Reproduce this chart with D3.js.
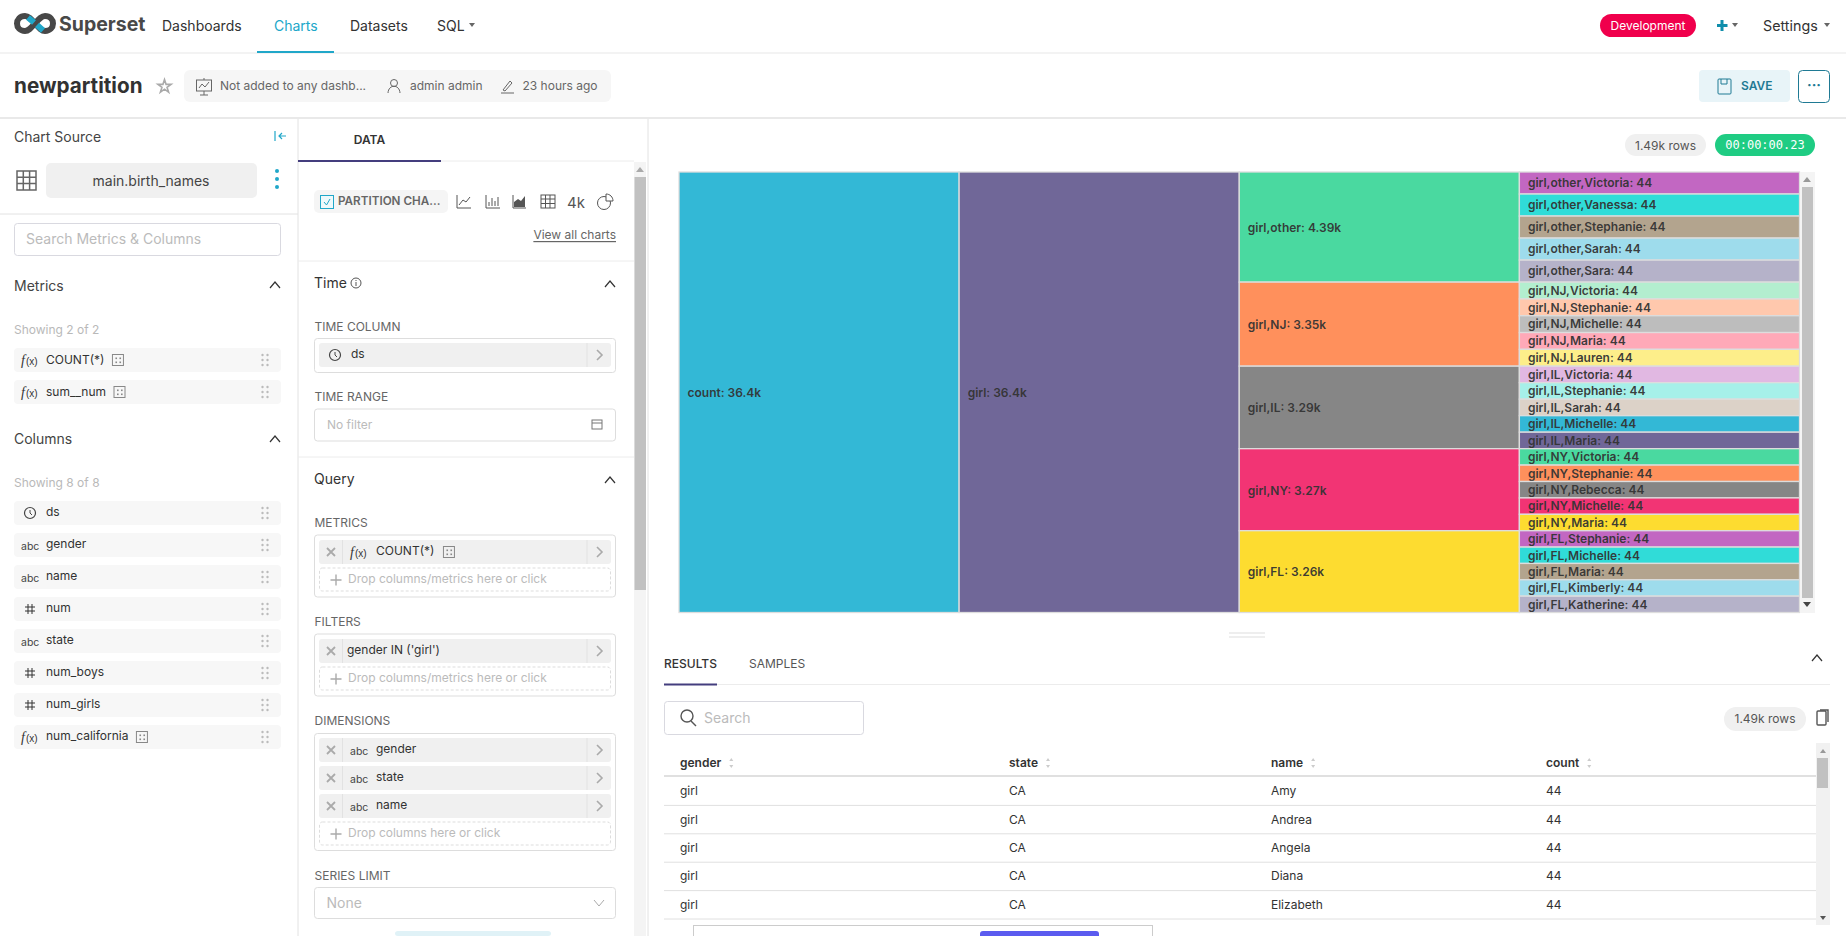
<![CDATA[<!DOCTYPE html>
<html><head><meta charset="utf-8">
<script src="https://cdnjs.cloudflare.com/ajax/libs/d3/7.8.5/d3.min.js"></script>
<style>
html,body{margin:0;padding:0;background:#fff;overflow:hidden}
svg{display:block}
text{font-family:Inter,"Noto Sans",sans-serif;dominant-baseline:central}
</style></head><body><svg id="c" width="1846" height="936"></svg>
<script>
// ---- chart data ----
const rootLabel = "count";
const genderLabel = "girl";
const totalValue = 36400;
const states = ["other","NJ","IL","NY","FL"];
const stateValues = [4390,3350,3290,3270,3260];
const namesOther = ["Victoria","Vanessa","Stephanie","Sarah","Sara"];
const namesNJ = ["Victoria","Stephanie","Michelle","Maria","Lauren"];
const namesIL = ["Victoria","Stephanie","Sarah","Michelle","Maria"];
const namesNY = ["Victoria","Stephanie","Rebecca","Michelle","Maria"];
const namesFL = ["Stephanie","Michelle","Maria","Kimberly","Katherine"];
const leafValue = 44;
const palette = ["#33b8d6","#706798","#4ad9a0","#ff905c","#868686","#f23474","#fddc30","#c267c2","#30dcd8","#b3a48e",
                 "#9edcec","#b5b2c9","#b3eecf","#ffc8ad","#bdbdbd","#ffa9b8","#fdee8a","#e1b8e2","#a6f0e9","#dcd2c8"];
// ---- results table ----
const tableCols = ["gender","state","name","count"];
const tableGender = ["girl","girl","girl","girl","girl"];
const tableState = ["CA","CA","CA","CA","CA"];
const tableName = ["Amy","Andrea","Angela","Diana","Elizabeth"];
const tableCount = [44,44,44,44,44];
// ---- interface labels ----
const navItems = ["Dashboards","Charts","Datasets","SQL"];
const metricItems = ["COUNT(*)","sum__num"];
const columnItems = ["ds","gender","name","num","state","num_boys","num_girls","num_california"];
const columnKinds = ["time","abc","abc","num","abc","num","num","fx"];
const dimensionItems = ["gender","state","name"];

const svg = d3.select("#c");
function R(x,y,w,h,fill,o={}){return svg.append("rect").attr("x",x).attr("y",y).attr("width",w).attr("height",h)
  .attr("fill",fill).attr("rx",o.rx||0).attr("stroke",o.stroke||"none").attr("stroke-width",o.sw||1).attr("stroke-dasharray",o.dash||null);}
function T(x,y,s,o={}){const t=svg.append("text").attr("x",x).attr("y",y).text(s).attr("font-size",o.size||12)
  .attr("font-weight",o.weight||400).attr("fill",o.fill||"#323232").attr("text-anchor",o.anchor||"start")
  .attr("font-style",o.italic?"italic":null).attr("text-decoration",o.deco||null);
  if(o.family)t.style("font-family",o.family);return t;}
function P(d,o={}){return svg.append("path").attr("d",d).attr("fill",o.fill||"none").attr("stroke",o.stroke||"#666")
  .attr("stroke-width",o.sw||1).attr("stroke-linecap",o.cap||null);}
function L(x1,y1,x2,y2,c,w=1){return svg.append("line").attr("x1",x1).attr("y1",y1).attr("x2",x2).attr("y2",y2).attr("stroke",c).attr("stroke-width",w);}
function caret(x,y,c="#666"){P(`M${x-3},${y-2}L${x+3},${y-2}L${x},${y+2}Z`,{fill:c,stroke:"none"});}
function chevUp(x,y){P(`M${x-5},${y+3}L${x},${y-3}L${x+5},${y+3}`,{stroke:"#333",sw:1.2});}
function chevRight(x,y){P(`M${x-2},${y-5}L${x+3},${y}L${x-2},${y+5}`,{stroke:"#aaa",sw:1.6});}
function clock(x,y){svg.append("circle").attr("cx",x).attr("cy",y).attr("r",5.5).attr("fill","none").attr("stroke","#444").attr("stroke-width",1.2);
  P(`M${x},${y-3}V${y}L${x+2},${y+2}`,{stroke:"#444"});}
function grip(x,y){[-5,0,5].forEach(dy=>[-2.5,2.5].forEach(dx=>svg.append("circle").attr("cx",x+dx).attr("cy",y+dy).attr("r",1.2).attr("fill","#bbb")));}
function sq(x,y){R(x,y-5.5,11,11,"none",{stroke:"#888"});[[3,3],[7,3],[3,7],[7,7]].forEach(p=>R(x+p[0],y-5.5+p[1],1.6,1.6,"#888"));}
function fx(x,y){T(x,y,"f",{family:"'Liberation Serif',serif",italic:1,size:14,fill:"#333"});T(x+5,y+1,"(x)",{size:10,family:"'Liberation Sans',sans-serif",fill:"#333"});}
function xmark(x,y){P(`M${x-4},${y-4}L${x+4},${y+4}M${x+4},${y-4}L${x-4},${y+4}`,{stroke:"#aaa",sw:1.8});}
function hash(x,y){P(`M${x-2},${y-5}V${y+5}M${x+2},${y-5}V${y+5}M${x-5},${y-2}H${x+5}M${x-5},${y+2}H${x+5}`,{stroke:"#333"});}

// ---- top navigation ----
P("M35,23.5 C31,19 28.5,16 25,16 C20,16 17,19.5 17,23.5 C17,27.5 20,31 25,31 C28.5,31 31,28 35,23.5 C39,19 41.5,16 45,16 C50,16 53,19.5 53,23.5 C53,27.5 50,31 45,31 C41.5,31 39,28 35,23.5 Z",{stroke:"#484848",sw:6});
P("M28,17.5 L34,22.5",{stroke:"#20a7c9",sw:6});
P("M37,25 L43,30.5",{stroke:"#20a7c9",sw:6});
T(59,24,"Superset",{size:19.5,weight:700,fill:"#484848"});
const navX = d3.scaleOrdinal().domain(navItems).range([162,274,350,437]);
navItems.forEach(n=>T(navX(n),25,n,{size:14,fill:n==="Charts"?"#20a7c9":"#323232"}));
caret(472,25);
L(0,53,1846,53,"#f3f3f3",2);
R(257,51,77,2,"#20a7c9");
R(1600,14,96,23,"#f0004c",{rx:11.5});
T(1648,25.5,"Development",{size:12,fill:"#fff",anchor:"middle"});
P("M1717,25.5H1727.5M1722,20V31",{stroke:"#0f8eab",sw:3});
caret(1735,25);
T(1763,25.5,"Settings",{size:14.3});
caret(1827,25);

// ---- title bar ----
T(14,85,"newpartition",{size:20.7,weight:700,fill:"#323232"});
P(d3.symbol(d3.symbolStar,54)()).attr("transform","translate(164.5,86.5)").attr("stroke","#aaa").attr("stroke-width",1.6);
R(184,70,427,32,"#f6f6f6",{rx:6});
R(196.5,80,15,11,"none",{stroke:"#666"});P("M199,88L202,84L205,87L209,82M204,91V95M200,95L208,95M204,78V80",{stroke:"#666"});
T(220,85.5,"Not added to any dashb...",{size:12,fill:"#666"});
svg.append("circle").attr("cx",394).attr("cy",83).attr("r",3.5).attr("fill","none").attr("stroke","#666");
P("M388,93C388.5,84 399.5,84 400,93",{stroke:"#666"});
T(410,85.5,"admin admin",{size:12,fill:"#666"});
P("M501,93H514M503,90L510,81L512,83L505,91Z",{stroke:"#666"});
T(522.5,85.5,"23 hours ago",{size:12,fill:"#666"});
R(1699,70,91,32,"#e8f4f8",{rx:4});
R(1718,79,13,15,"none",{stroke:"#1f7a94",rx:1});P("M1721,79V84H1727V79",{stroke:"#1f7a94"});
T(1741,85.5,"SAVE",{size:12,weight:600,fill:"#1f7a94"});
R(1798.5,70.5,31,32,"#fff",{stroke:"#1f7a94",rx:4});
T(1814,84,"···",{size:14,weight:700,fill:"#1f7a94",anchor:"middle"});
L(0,118,1846,118,"#e2e2e2",1.5);

// ---- dataset panel ----
L(298,119,298,936,"#e2e2e2");
T(14,136,"Chart Source",{size:14,fill:"#444"});
P("M275,131V141M286,136H279M282,133L279,136L282,139",{stroke:"#20a7c9",sw:1.2});
R(17,171,19,19,"none",{stroke:"#666",sw:1.5});
P("M23.3,171V190M29.6,171V190M17,177.3H36M17,183.6H36",{stroke:"#666",sw:1.5});
R(46,163,211,35,"#f0f0f0",{rx:5});
T(151,180,"main.birth_names",{size:14,anchor:"middle",fill:"#444"});
[172,180,188].forEach(y=>svg.append("circle").attr("cx",277).attr("cy",y-1).attr("r",2).attr("fill","#20a7c9"));
L(0,214,298,214,"#e2e2e2");
R(14.5,223.5,266,32,"#fff",{stroke:"#d9d9e0",rx:3});
T(26,238,"Search Metrics & Columns",{size:14,fill:"#bbb"});
T(14,285,"Metrics",{size:14,fill:"#444"});chevUp(275,285);
T(14,329.5,"Showing 2 of 2",{size:12,fill:"#b9b9b9"});
const rowY1 = d3.scalePoint().domain(metricItems).range([360,392]);
metricItems.forEach(m=>{R(14,rowY1(m)-12,267,24,"#f7f7f7",{rx:4});fx(21,rowY1(m));
  const t=T(46,rowY1(m)-1,m,{size:12});sq(46+t.node().getComputedTextLength()+8,rowY1(m));grip(265,rowY1(m));});
T(14,438,"Columns",{size:14,fill:"#444"});chevUp(275,439);
T(14,482,"Showing 8 of 8",{size:12,fill:"#b9b9b9"});
const rowY2 = d3.scaleBand().domain(columnItems).range([501,757]);
columnItems.forEach((c,i)=>{const y=rowY2(c)+12;R(14,y-12,267,24,"#f7f7f7",{rx:4});
  const k=columnKinds[i];
  if(k==="time")clock(30,y);else if(k==="abc")T(21,y+1,"abc",{size:10.5,fill:"#444"});else if(k==="num")hash(30,y);else fx(21,y);
  const t=T(46,y-1.5,c,{size:12});if(k==="fx")sq(46+t.node().getComputedTextLength()+8,y);grip(265,y);});

// ---- control panel ----
L(648,119,648,936,"#e2e2e2");
R(298,160,143,2,"#443e7e");
L(441,161,634,161,"#ececec");
T(369.5,139,"DATA",{size:12,weight:600,anchor:"middle",fill:"#333"});
R(634,162,12,774,"#f4f4f4");R(634.5,177,11.5,413,"#c1c1c1");
P("M640,167L636,172H644Z",{fill:"#aaa",stroke:"none"});
R(314,190,134,23,"#f5f5f5",{rx:5});
R(320.5,195.5,13,13,"#eef9fb",{stroke:"#20a7c9"});P("M324,202L326.5,205L330,199",{stroke:"#20a7c9"});
T(338,200.5,"PARTITION CHA...",{size:11.7,weight:600,fill:"#666"});
P("M457,195V208H471M459,205L463,200L466,202L470,197",{stroke:"#555"});
P("M486,195V208H500M489,206V202M492,206V198M495,206V201M498,206V197",{stroke:"#555"});
P("M513,195V208H526",{stroke:"#555"});P("M514,207V202L518,199L521,201L525,196V207Z",{fill:"#555",stroke:"none"});
R(541,195,14,13,"none",{stroke:"#555"});P("M545.5,195V208M550,195V208M541,199H555M541,203.5H555",{stroke:"#555"});
T(567,202,"4k",{size:15,fill:"#555"});
svg.append("circle").attr("cx",604).attr("cy",203).attr("r",6.5).attr("fill","none").attr("stroke","#555");
P("M606,194V201H613C613,197 610,194 606,194Z",{stroke:"#555",fill:"#fff"});
T(616,234.5,"View all charts",{size:12,fill:"#666",anchor:"end",deco:"underline"});
L(298,261,634,261,"#ececec");
T(314,282,"Time",{size:14,fill:"#333"});
svg.append("circle").attr("cx",356).attr("cy",283).attr("r",5).attr("fill","none").attr("stroke","#555");
P("M356,282V286M356,280V281",{stroke:"#555"});chevUp(610,284);
function lab(y,s){T(314.5,y,s,{size:12,fill:"#666"});}
function box(y,h){R(314.5,y+.5,301,h,"#fff",{stroke:"#ddd",rx:3});}
function pill(y,label,o={}){R(319,y,292,24,"#f0f0f0",{rx:3});
  if(o.x){xmark(331,y+12);L(342.5,y,342.5,y+24,"#e2e2e2");}
  L(587,y,587,y+24,"#e2e2e2");chevRight(599,y+12);
  if(o.draw)o.draw(y+12);
  const t=T(o.tx,y+10.5,label,{size:12});if(o.sq)sq(o.tx+t.node().getComputedTextLength()+9,y+12);}
function drop(y,s){R(319.5,y,291,23,"#fff",{stroke:"#ddd",rx:3,dash:"3 2"});P(`M336,${y+6.5}V${y+17.5}M330.5,${y+12}H341.5`,{stroke:"#aaa",sw:1.4});
  T(348,y+10.5,s,{size:12,fill:"#bbb"});}
lab(326,"TIME COLUMN");box(338,34);pill(343,"ds",{tx:351,draw:y=>clock(335,y)});
lab(396.5,"TIME RANGE");box(408.5,32);T(327,424.5,"No filter",{size:12,fill:"#bbb"});
R(592,420,10,9,"none",{stroke:"#777"});L(592,423,602,423,"#777");
L(298,457,634,457,"#ececec");
T(314,478,"Query",{size:14,fill:"#333"});chevUp(610,480);
lab(522,"METRICS");box(534.5,62);pill(540,"COUNT(*)",{x:1,tx:376,sq:1,draw:y=>fx(350,y)});drop(568,"Drop columns/metrics here or click");
lab(621,"FILTERS");box(633.5,62);pill(639,"gender IN ('girl')",{x:1,tx:347});drop(667,"Drop columns/metrics here or click");
lab(720.7,"DIMENSIONS");box(733,117);
const dimY = d3.scaleBand().domain(dimensionItems).range([738,822]);
dimensionItems.forEach(d=>pill(dimY(d),d,{x:1,tx:376,draw:y=>T(350,y+1,"abc",{size:10.5,fill:"#444"})}));
drop(822,"Drop columns here or click");
lab(875.7,"SERIES LIMIT");box(887,31);T(326.5,902.5,"None",{size:14,fill:"#bbb"});
P("M594,900L599,906L604,900",{stroke:"#aaa"});
R(395,931,156,5,"#e0f2f7",{rx:3});

// ---- run stats ----
R(1625,134,81,22,"#f0f0f0",{rx:11});
T(1665.5,145,"1.49k rows",{size:12,fill:"#555",anchor:"middle"});
R(1715,134,100,22,"#1fcc83",{rx:11});
T(1765,145,"00:00:00.23",{size:12,fill:"#fff",anchor:"middle",family:"'DejaVu Sans Mono',monospace"});

// ---- partition chart ----
const xCol = d3.scaleBand().domain([0,1,2,3]).range([679,1799.5]);
const yFull = d3.scaleLinear().domain([0,totalValue]).range([172,612.5]);
const yState = d3.scaleLinear().domain([0,d3.sum(stateValues)]).range([172,612.5]);
const colour = d3.scaleOrdinal().domain(d3.range(palette.length)).range(palette);
const fmt = d3.format(".3~s");
let colourIndex = 0;
const nodes = [];
nodes.push({depth:0,label:rootLabel,value:totalValue,y0:yFull(0),y1:yFull(totalValue),c:colourIndex++});
nodes.push({depth:1,label:genderLabel,value:totalValue,y0:yFull(0),y1:yFull(totalValue),c:colourIndex++});
const leafNames = [namesOther,namesNJ,namesIL,namesNY,namesFL];
const stateBands = [];
let acc = 0;
states.forEach((s,i)=>{const y0=yState(acc);acc+=stateValues[i];const y1=yState(acc);
  stateBands.push([y0,y1]);
  nodes.push({depth:2,label:`${genderLabel},${s}`,value:stateValues[i],y0,y1,c:colourIndex++});});
states.forEach((s,i)=>{
  const band=d3.scaleBand().domain(leafNames[i]).range(stateBands[i]);
  leafNames[i].forEach(n=>nodes.push({depth:3,label:`${genderLabel},${s},${n}`,value:leafValue,y0:band(n),y1:band(n)+band.bandwidth(),c:colourIndex++}));
});
const g = svg.append("g").attr("class","partition");
const cell = g.selectAll("g").data(nodes).join("g");
cell.append("rect").attr("x",d=>xCol(d.depth)).attr("y",d=>d.y0).attr("width",xCol.bandwidth()).attr("height",d=>d.y1-d.y0)
  .attr("fill",d=>colour(d.c)).attr("stroke","#ddd").attr("stroke-width",1.3);
cell.append("text").attr("x",d=>xCol(d.depth)+8.5).attr("y",d=>(d.y0+d.y1)/2-(d.depth===3?.2:-.3))
  .attr("font-size",12).attr("font-weight",600).attr("fill","#333").attr("fill-opacity",.95)
  .text(d=>`${d.label}: ${fmt(d.value)}`);
// chart scrollbar
R(1800,172,15,441,"#f4f4f4");R(1802,187,11,411,"#c1c1c1");
P("M1807,177L1803,182H1811Z",{fill:"#999",stroke:"none"});P("M1807,607L1803,602H1811Z",{fill:"#444",stroke:"none"});

// ---- split handle ----
L(1229,633,1265,633,"#ddd");L(1229,637,1265,637,"#ddd");

// ---- results pane ----
T(664,663,"RESULTS",{size:12,weight:500,fill:"#333"});
T(749,663,"SAMPLES",{size:12,fill:"#555"});
L(664,684.5,1830,684.5,"#ececec");R(664,683.5,53,2,"#443e7e");
chevUp(1817,658);
R(664.5,701.5,199,33,"#fff",{stroke:"#d9d9e0",rx:3});
svg.append("circle").attr("cx",687).attr("cy",716).attr("r",6).attr("fill","none").attr("stroke","#555").attr("stroke-width",1.4);
P("M691,721L696,726",{stroke:"#555",sw:1.4});
T(704,717,"Search",{size:14,fill:"#bbb"});
R(1724,707,82,24,"#f0f0f0",{rx:12});
T(1765,718,"1.49k rows",{size:12,fill:"#555",anchor:"middle"});
R(1817,711,9,14,"none",{stroke:"#555",sw:1.4,rx:1});P("M1820,710H1828V722",{stroke:"#555",sw:1.4});
const colX = d3.scaleOrdinal().domain(tableCols).range([680,1009,1271,1546]);
tableCols.forEach(c=>{const t=T(colX(c),762,c,{size:12,weight:600,fill:"#333"});
  const x=colX(c)+t.node().getComputedTextLength()+10;
  P(`M${x-2},761L${x},758L${x+2},761Z M${x-2},765L${x},768L${x+2},765Z`,{fill:"#ccc",stroke:"none"});});
L(664,776,1816,776,"#e0e0e0",2);
const rowY = d3.scaleBand().domain(d3.range(tableName.length)).range([777,919]);
tableName.forEach((n,i)=>{const y=rowY(i)+rowY.bandwidth()/2-.5;
  T(colX("gender"),y,tableGender[i]);T(colX("state"),y,tableState[i]);T(colX("name"),y,n);T(colX("count"),y,String(tableCount[i]));
  L(664,rowY(i)+rowY.bandwidth(),1816,rowY(i)+rowY.bandwidth(),"#e0e0e0",1);});
R(1816,743,14,182,"#f1f1f1");R(1817,758,11,30,"#c1c1c1");
P("M1823,749L1820,753H1826Z",{fill:"#999",stroke:"none"});P("M1823,920L1820,916H1826Z",{fill:"#555",stroke:"none"});
R(693.5,925.5,459,15,"#fff",{stroke:"#ccc"});
R(980,931,119,10,"#5b5bef",{rx:3});
</script></body></html>]]>
